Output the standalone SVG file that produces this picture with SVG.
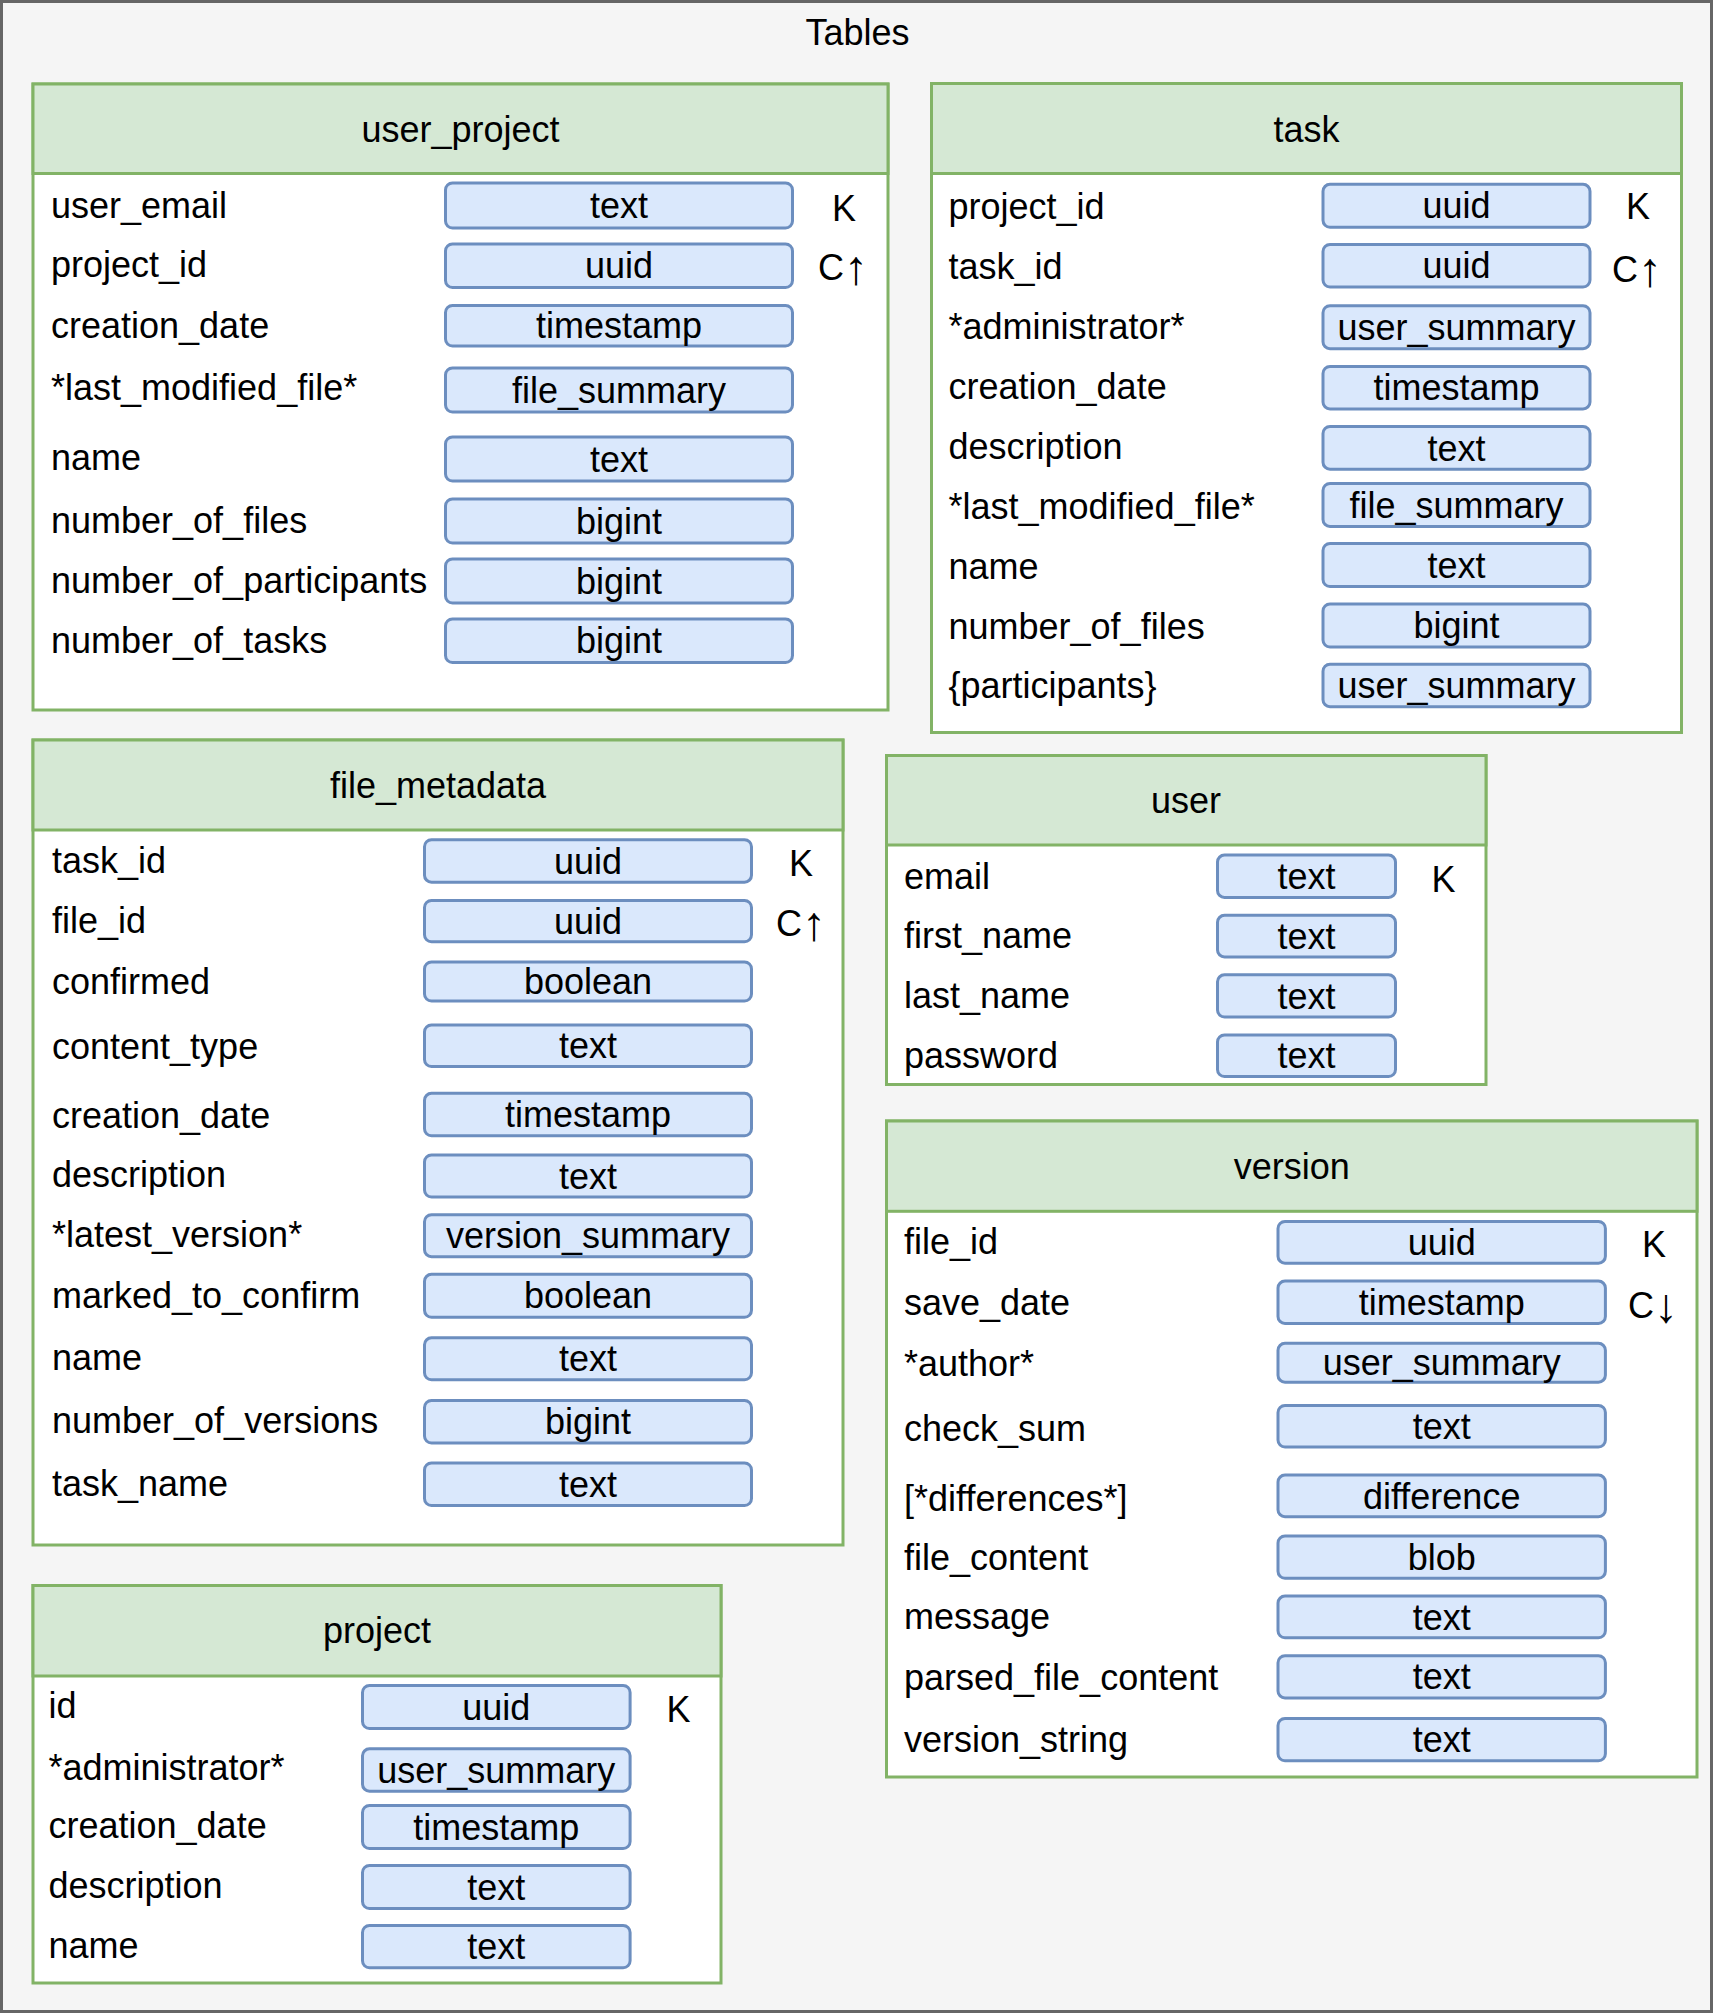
<svg xmlns="http://www.w3.org/2000/svg" width="1719" height="2013" viewBox="0 0 1719 2013">
<style>
text{font-family:"Liberation Sans",Arial,Helvetica,sans-serif;font-size:36px;fill:#000}
.tbl{fill:#ffffff;stroke:#82b366;stroke-width:3}
.hdr{fill:#d5e8d4;stroke:#82b366;stroke-width:3}
.typ{fill:#dae8fc;stroke:#6c8ebf;stroke-width:3}
.c{text-anchor:middle}
.ar{font-size:48px}
</style>
<rect x="1.5" y="1.5" width="1710" height="2010" fill="#f5f5f5" stroke="#666666" stroke-width="3"/>
<text class="c" x="857.5" y="45">Tables</text>

<g id="user_project">
<rect class="tbl" x="33" y="84" width="855" height="626"/>
<rect class="hdr" x="33" y="84" width="855" height="89.5"/>
<text class="c" x="460.5" y="141.5">user_project</text>
<rect class="typ" x="445.5" y="183" width="347" height="45" rx="7"/>
<rect class="typ" x="445.5" y="244" width="347" height="43.5" rx="7"/>
<rect class="typ" x="445.5" y="305.5" width="347" height="40.5" rx="7"/>
<rect class="typ" x="445.5" y="368" width="347" height="44" rx="7"/>
<rect class="typ" x="445.5" y="437" width="347" height="44" rx="7"/>
<rect class="typ" x="445.5" y="499" width="347" height="44" rx="7"/>
<rect class="typ" x="445.5" y="559" width="347" height="44" rx="7"/>
<rect class="typ" x="445.5" y="619" width="347" height="43.5" rx="7"/>
<text x="51" y="218">user_email</text>
<text x="51" y="277">project_id</text>
<text x="51" y="338">creation_date</text>
<text x="51" y="400">*last_modified_file*</text>
<text x="51" y="470">name</text>
<text x="51" y="533">number_of_files</text>
<text x="51" y="593">number_of_participants</text>
<text x="51" y="653">number_of_tasks</text>
<text class="c" x="619" y="218.1">text</text>
<text class="c" x="619" y="278.4">uuid</text>
<text class="c" x="619" y="338.4">timestamp</text>
<text class="c" x="619" y="402.6">file_summary</text>
<text class="c" x="619" y="471.6">text</text>
<text class="c" x="619" y="533.6">bigint</text>
<text class="c" x="619" y="593.6">bigint</text>
<text class="c" x="619" y="653.4">bigint</text>
<text class="c" x="844" y="221">K</text>
<text class="c" x="843" y="280">C<tspan class="ar" dy="4">↑</tspan></text>
</g>

<g id="task">
<rect class="tbl" x="931.5" y="83.5" width="750" height="649"/>
<rect class="hdr" x="931.5" y="83.5" width="750" height="90"/>
<text class="c" x="1306.5" y="141.5">task</text>
<rect class="typ" x="1323" y="184.3" width="267" height="43" rx="7"/>
<rect class="typ" x="1323" y="244.5" width="267" height="42.6" rx="7"/>
<rect class="typ" x="1323" y="305.7" width="267" height="43" rx="7"/>
<rect class="typ" x="1323" y="366.5" width="267" height="42.4" rx="7"/>
<rect class="typ" x="1323" y="426.5" width="267" height="42.7" rx="7"/>
<rect class="typ" x="1323" y="483.4" width="267" height="43" rx="7"/>
<rect class="typ" x="1323" y="543.5" width="267" height="43" rx="7"/>
<rect class="typ" x="1323" y="604" width="267" height="43" rx="7"/>
<rect class="typ" x="1323" y="664.2" width="267" height="42.5" rx="7"/>
<text x="948.5" y="218.5">project_id</text>
<text x="948.5" y="278.8">task_id</text>
<text x="948.5" y="339">*administrator*</text>
<text x="948.5" y="399">creation_date</text>
<text x="948.5" y="458.7">description</text>
<text x="948.5" y="518.5">*last_modified_file*</text>
<text x="948.5" y="578.8">name</text>
<text x="948.5" y="639">number_of_files</text>
<text x="948.5" y="698.4">{participants}</text>
<text class="c" x="1456.5" y="218.4">uuid</text>
<text class="c" x="1456.5" y="278.4">uuid</text>
<text class="c" x="1456.5" y="339.8">user_summary</text>
<text class="c" x="1456.5" y="400.3">timestamp</text>
<text class="c" x="1456.5" y="460.5">text</text>
<text class="c" x="1456.5" y="517.5">file_summary</text>
<text class="c" x="1456.5" y="577.6">text</text>
<text class="c" x="1456.5" y="638.1">bigint</text>
<text class="c" x="1456.5" y="698.1">user_summary</text>
<text class="c" x="1638" y="218.5">K</text>
<text class="c" x="1637" y="281.9">C<tspan class="ar" dy="4">↑</tspan></text>
</g>

<g id="file_metadata">
<rect class="tbl" x="33" y="740" width="810" height="805"/>
<rect class="hdr" x="33" y="740" width="810" height="90"/>
<text class="c" x="438" y="797.6">file_metadata</text>
<rect class="typ" x="424.5" y="839.7" width="327" height="42.5" rx="7"/>
<rect class="typ" x="424.5" y="900.4" width="327" height="41.4" rx="7"/>
<rect class="typ" x="424.5" y="962" width="327" height="39" rx="7"/>
<rect class="typ" x="424.5" y="1025" width="327" height="41.5" rx="7"/>
<rect class="typ" x="424.5" y="1093.3" width="327" height="42.5" rx="7"/>
<rect class="typ" x="424.5" y="1155" width="327" height="42" rx="7"/>
<rect class="typ" x="424.5" y="1214.7" width="327" height="42" rx="7"/>
<rect class="typ" x="424.5" y="1274.3" width="327" height="43" rx="7"/>
<rect class="typ" x="424.5" y="1337.8" width="327" height="42" rx="7"/>
<rect class="typ" x="424.5" y="1400.5" width="327" height="42.6" rx="7"/>
<rect class="typ" x="424.5" y="1463" width="327" height="42.5" rx="7"/>
<text x="52" y="873.4">task_id</text>
<text x="52" y="933">file_id</text>
<text x="52" y="993.7">confirmed</text>
<text x="52" y="1058.7">content_type</text>
<text x="52" y="1127.6">creation_date</text>
<text x="52" y="1187.2">description</text>
<text x="52" y="1246.8">*latest_version*</text>
<text x="52" y="1308">marked_to_confirm</text>
<text x="52" y="1370.4">name</text>
<text x="52" y="1432.7">number_of_versions</text>
<text x="52" y="1496">task_name</text>
<text class="c" x="588" y="873.6">uuid</text>
<text class="c" x="588" y="933.7">uuid</text>
<text class="c" x="588" y="994.1">boolean</text>
<text class="c" x="588" y="1058.4">text</text>
<text class="c" x="588" y="1127.2">timestamp</text>
<text class="c" x="588" y="1188.6">text</text>
<text class="c" x="588" y="1248.3">version_summary</text>
<text class="c" x="588" y="1308.4">boolean</text>
<text class="c" x="588" y="1371.4">text</text>
<text class="c" x="588" y="1434.4">bigint</text>
<text class="c" x="588" y="1496.9">text</text>
<text class="c" x="801" y="875.5">K</text>
<text class="c" x="801" y="935.7">C<tspan class="ar" dy="4">↑</tspan></text>
</g>

<g id="user">
<rect class="tbl" x="886.5" y="755.5" width="599.5" height="329"/>
<rect class="hdr" x="886.5" y="755.5" width="599.5" height="89.5"/>
<text class="c" x="1186" y="812.6">user</text>
<rect class="typ" x="1217.5" y="855.1" width="178" height="42.3" rx="7"/>
<rect class="typ" x="1217.5" y="915.3" width="178" height="41.6" rx="7"/>
<rect class="typ" x="1217.5" y="974.8" width="178" height="42.3" rx="7"/>
<rect class="typ" x="1217.5" y="1034.9" width="178" height="41.6" rx="7"/>
<text x="904" y="888.7">email</text>
<text x="904" y="948.2">first_name</text>
<text x="904" y="1008.4">last_name</text>
<text x="904" y="1068">password</text>
<text class="c" x="1306.5" y="888.9">text</text>
<text class="c" x="1306.5" y="948.7">text</text>
<text class="c" x="1306.5" y="1008.6">text</text>
<text class="c" x="1306.5" y="1068.3">text</text>
<text class="c" x="1443.5" y="892">K</text>
</g>

<g id="version">
<rect class="tbl" x="886.5" y="1121" width="810.5" height="656"/>
<rect class="hdr" x="886.5" y="1121" width="810.5" height="90.3"/>
<text class="c" x="1291.7" y="1178.6">version</text>
<rect class="typ" x="1278" y="1221.5" width="327.4" height="41.7" rx="7"/>
<rect class="typ" x="1278" y="1281.1" width="327.4" height="42.3" rx="7"/>
<rect class="typ" x="1278" y="1343.3" width="327.4" height="38.9" rx="7"/>
<rect class="typ" x="1278" y="1405.5" width="327.4" height="41.6" rx="7"/>
<rect class="typ" x="1278" y="1475.1" width="327.4" height="41.6" rx="7"/>
<rect class="typ" x="1278" y="1536" width="327.4" height="42.3" rx="7"/>
<rect class="typ" x="1278" y="1596.1" width="327.4" height="41.7" rx="7"/>
<rect class="typ" x="1278" y="1655.7" width="327.4" height="42.2" rx="7"/>
<rect class="typ" x="1278" y="1718.5" width="327.4" height="42.3" rx="7"/>
<text x="904" y="1253.9">file_id</text>
<text x="904" y="1314.7">save_date</text>
<text x="904" y="1375.6">*author*</text>
<text x="904" y="1441.2">check_sum</text>
<text x="904" y="1510.8">[*differences*]</text>
<text x="904" y="1570.3">file_content</text>
<text x="904" y="1629">message</text>
<text x="904" y="1690">parsed_file_content</text>
<text x="904" y="1752">version_string</text>
<text class="c" x="1441.7" y="1255">uuid</text>
<text class="c" x="1441.7" y="1314.9">timestamp</text>
<text class="c" x="1441.7" y="1375.4">user_summary</text>
<text class="c" x="1441.7" y="1438.9">text</text>
<text class="c" x="1441.7" y="1508.5">difference</text>
<text class="c" x="1441.7" y="1569.8">blob</text>
<text class="c" x="1441.7" y="1629.6">text</text>
<text class="c" x="1441.7" y="1689.4">text</text>
<text class="c" x="1441.7" y="1752.3">text</text>
<text class="c" x="1654" y="1257">K</text>
<text class="c" x="1653" y="1318">C<tspan class="ar" dy="4">↓</tspan></text>
</g>

<g id="project">
<rect class="tbl" x="33" y="1585.5" width="688" height="397.5"/>
<rect class="hdr" x="33" y="1585.5" width="688" height="90.5"/>
<text class="c" x="377" y="1643">project</text>
<rect class="typ" x="362.5" y="1685.5" width="267.6" height="43" rx="7"/>
<rect class="typ" x="362.5" y="1748.8" width="267.6" height="42.4" rx="7"/>
<rect class="typ" x="362.5" y="1805.5" width="267.6" height="43" rx="7"/>
<rect class="typ" x="362.5" y="1865.5" width="267.6" height="43" rx="7"/>
<rect class="typ" x="362.5" y="1925.5" width="267.6" height="42.3" rx="7"/>
<text x="48.5" y="1718.3">id</text>
<text x="48.5" y="1780">*administrator*</text>
<text x="48.5" y="1837.7">creation_date</text>
<text x="48.5" y="1898.3">description</text>
<text x="48.5" y="1957.7">name</text>
<text class="c" x="496.3" y="1719.6">uuid</text>
<text class="c" x="496.3" y="1782.6">user_summary</text>
<text class="c" x="496.3" y="1839.6">timestamp</text>
<text class="c" x="496.3" y="1899.6">text</text>
<text class="c" x="496.3" y="1959.3">text</text>
<text class="c" x="678.5" y="1721.7">K</text>
</g>

<g id="connectors"></g>
</svg>
